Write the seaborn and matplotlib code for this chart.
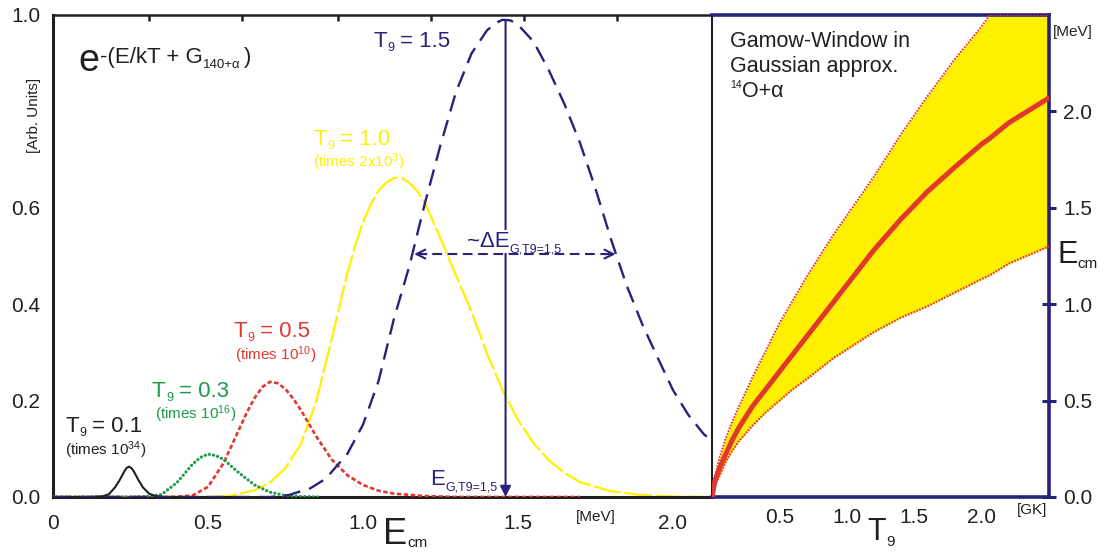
import matplotlib
matplotlib.use('Agg')
import matplotlib.pyplot as plt
import seaborn as sns

# ---------- Data ----------
# Left panel: Gamow peaks [arb. units] vs E_cm [MeV]
t01_E = [0, 0.12, 0.16, 0.18, 0.20, 0.215, 0.23, 0.237, 0.245, 0.253, 0.26, 0.275, 0.29, 0.31, 0.33,
         0.36, 0.50]
t01_v = [0, 0, 0.0015, 0.0055, 0.020, 0.035, 0.053, 0.060, 0.063, 0.060, 0.054, 0.036, 0.020, 0.007,
         0.002, 0, 0]

t03_E = [0, 0.25, 0.30, 0.35, 0.40, 0.45, 0.475, 0.50, 0.525, 0.55, 0.60, 0.65, 0.70, 0.75, 0.80, 0.86]
t03_v = [0, 0, 0.001, 0.005, 0.030, 0.068, 0.082, 0.089, 0.086, 0.078, 0.050, 0.025, 0.010, 0.003,
         0.001, 0]

t05_E = [0, 0.38, 0.45, 0.50, 0.55, 0.60, 0.625, 0.65, 0.675, 0.70, 0.725, 0.75, 0.775, 0.80, 0.85,
         0.90, 0.95, 1.00, 1.05, 1.10, 1.20, 1.30, 1.70]
t05_v = [0, 0, 0.003, 0.021, 0.070, 0.140, 0.175, 0.205, 0.228, 0.239, 0.236, 0.224, 0.204, 0.180,
         0.125, 0.077, 0.045, 0.025, 0.013, 0.007, 0.002, 0, 0]

t10_E = [0, 0.50, 0.57, 0.65, 0.70, 0.75, 0.80, 0.85, 0.90, 0.95, 0.975, 1.00, 1.025, 1.05, 1.075,
         1.10, 1.125, 1.15, 1.175, 1.20, 1.25, 1.30, 1.35, 1.40, 1.45, 1.50, 1.55, 1.60, 1.65,
         1.70, 1.80, 1.90, 2.00, 2.13]
t10_v = [0, 0, 0.002, 0.014, 0.030, 0.060, 0.110, 0.200, 0.330, 0.465, 0.522, 0.570, 0.607, 0.635,
         0.652, 0.662, 0.662, 0.652, 0.635, 0.610, 0.537, 0.460, 0.385, 0.298, 0.222, 0.160,
         0.112, 0.076, 0.050, 0.031, 0.012, 0.004, 0.001, 0]

t15_E = [0, 0.70, 0.76, 0.83, 0.88, 0.95, 1.00, 1.05, 1.10, 1.15, 1.20, 1.25, 1.30, 1.35, 1.40,
         1.425, 1.45, 1.475, 1.50, 1.55, 1.60, 1.65, 1.70, 1.75, 1.80, 1.85, 1.90, 1.95, 2.00,
         2.05, 2.10, 2.13]
t15_v = [0, 0, 0.004, 0.018, 0.038, 0.090, 0.150, 0.240, 0.370, 0.480, 0.610, 0.730, 0.840, 0.920,
         0.968, 0.982, 0.990, 0.989, 0.980, 0.945, 0.885, 0.815, 0.735, 0.640, 0.535, 0.440,
         0.360, 0.290, 0.222, 0.170, 0.130, 0.115]

# T9 = 1.5 annotations: peak energy and width at half maximum
peak_E15 = 1.46
half_lo, half_hi, half_v = 1.165, 1.815, 0.504

# Right panel: Gamow window (Gaussian approx.) vs T9 [GK]
t9 = [0, 0.02, 0.05, 0.1, 0.15, 0.2, 0.3, 0.4, 0.5, 0.6, 0.7, 0.8, 0.9, 1.0, 1.2, 1.4, 1.6, 1.8,
      2.0, 2.06, 2.2, 2.5]
win_center = [0, 0.08, 0.14, 0.22, 0.295, 0.36, 0.47, 0.56, 0.65, 0.74, 0.83, 0.92, 1.01, 1.10,
              1.28, 1.44, 1.585, 1.71, 1.83, 1.86, 1.94, 2.07]
win_low = [0, 0.06, 0.10, 0.18, 0.24, 0.29, 0.37, 0.44, 0.50, 0.56, 0.61, 0.665, 0.72, 0.765,
           0.855, 0.93, 0.99, 1.06, 1.13, 1.15, 1.21, 1.30]
win_high = [0, 0.10, 0.19, 0.30, 0.39, 0.47, 0.62, 0.76, 0.90, 1.02, 1.14, 1.25, 1.36, 1.46,
            1.66, 1.88, 2.08, 2.27, 2.44, 2.50, 2.50, 2.50]

top_ticks = [0.31, 0.61, 0.92, 1.22, 1.52, 1.82]

# ---------- Style ----------
sns.set_style('white')
plt.rcParams['font.family'] = ['Liberation Sans', 'DejaVu Sans']
plt.rcParams['mathtext.fontset'] = 'custom'
plt.rcParams['mathtext.rm'] = 'Liberation Sans'
plt.rcParams['mathtext.it'] = 'Liberation Sans'
plt.rcParams['mathtext.default'] = 'regular'
plt.rcParams['lines.scale_dashes'] = False

NAVY = '#27237a'
YELLOW = '#fff000'
RED = '#e2372e'
GREEN = '#1d9a4a'
BLACK = '#231f20'

W, H = 1114, 552
fig = plt.figure(figsize=(W / 100, H / 100), dpi=100)
ax1 = fig.add_axes([53 / W, 55 / H, 659 / W, 482 / H])
ax2 = fig.add_axes([712 / W, 55 / H, 337 / W, 482 / H])
ax2.patch.set_alpha(0)

# ---------- Left panel ----------
curves = [
    (t10_E, t10_v, YELLOW, (0, (20, 2.5)), 1.6, 'butt', 2),
    (t05_E, t05_v, RED, (0, (3.2, 1.8)), 1.9, 'butt', 3),
    (t03_E, t03_v, GREEN, (0, (0.1, 3.0)), 2.3, 'round', 4),
    (t01_E, t01_v, BLACK, '-', 1.5, 'butt', 5),
    (t15_E, t15_v, NAVY, (0, (12, 6.5)), 1.7, 'butt', 6),
]
for E, v, col, ls, lw, cap, z in curves:
    sns.lineplot(x=E, y=v, ax=ax1, color=col, linestyle=ls, linewidth=lw,
                 errorbar=None, dash_capstyle=cap, zorder=z)

ax1.set_xlim(0, 2.126)
ax1.set_ylim(0, 1.0)
ax1.set_xticks([0, 0.25, 0.5, 0.75, 1.0, 1.25, 1.5, 1.75, 2.0])
ax1.set_xticklabels(['0', '', '0.5', '', '1.0', '', '1.5', '', '2.0'])
ax1.set_yticks([0, 0.2, 0.4, 0.6, 0.8, 1.0])
ax1.set_yticklabels(['0.0', '0.2', '0.4', '0.6', '', '1.0'])
ax1.tick_params(axis='both', direction='out', length=5, width=1.6, color=BLACK,
                labelsize=15, labelcolor=BLACK)
ax1.tick_params(axis='x', pad=7)
ax1.tick_params(axis='y', pad=4)
ax1.set_xlabel('')
ax1.set_ylabel('')
for side, lw in [('left', 2.2), ('bottom', 2.2), ('top', 1.8), ('right', 1.5)]:
    ax1.spines[side].set_color(BLACK)
    ax1.spines[side].set_linewidth(lw)

sec = ax1.secondary_xaxis('top')
sec.set_xticks(top_ticks)
sec.set_xticklabels([])
sec.tick_params(direction='in', length=4, width=1.8, color=BLACK)
sec.spines['top'].set_visible(False)

# arrows for T9 = 1.5
ax1.annotate('', xy=(peak_E15, 0), xytext=(peak_E15, 0.99),
             arrowprops=dict(arrowstyle='-|>', color=NAVY, lw=1.5, mutation_scale=16,
                             shrinkA=0, shrinkB=0), zorder=7)
ax1.plot([half_lo + 0.01, half_hi - 0.01], [half_v, half_v], color=NAVY, lw=1.5,
         linestyle=(0, (7, 4)), zorder=7)
for tip, tail in [(half_lo, half_lo + 0.04), (half_hi, half_hi - 0.04)]:
    ax1.annotate('', xy=(tip, half_v), xytext=(tail, half_v),
                 arrowprops=dict(arrowstyle='->', color=NAVY, lw=1.5, mutation_scale=16,
                                 shrinkA=0, shrinkB=0), zorder=7)

# ---------- Right panel ----------
ax2.fill_between(t9, win_low, win_high, color=YELLOW, lw=0, zorder=1)
sns.lineplot(x=t9, y=win_low, ax=ax2, color=RED, linestyle=(0, (1.2, 1.0)), linewidth=1.6,
             errorbar=None, zorder=3)
sns.lineplot(x=t9, y=win_high, ax=ax2, color=RED, linestyle=(0, (1.2, 1.0)), linewidth=1.4,
             errorbar=None, zorder=3)
sns.lineplot(x=t9, y=win_center, ax=ax2, color=RED, linewidth=3.6, errorbar=None, zorder=4)

ax2.set_xlim(0, 2.5)
ax2.set_ylim(0, 2.5)
ax2.set_xticks([0, 0.5, 1.0, 1.5, 2.0])
ax2.set_xticklabels(['', '0.5', '1.0', '1.5', '2.0'])
ax2.set_yticks([0, 0.5, 1.0, 1.5, 2.0])
ax2.set_yticklabels(['0.0', '0.5', '1.0', '1.5', '2.0'])
ax2.yaxis.tick_right()
ax2.tick_params(axis='both', direction='inout', length=10, width=2.2, color=NAVY,
                labelsize=15, labelcolor=BLACK)
ax2.tick_params(axis='x', pad=3)
ax2.tick_params(axis='y', pad=5)
ax2.set_xlabel('')
ax2.set_ylabel('')
for side in ['top', 'right', 'bottom']:
    ax2.spines[side].set_color(NAVY)
    ax2.spines[side].set_linewidth(2.6)
ax2.spines['left'].set_visible(False)

# ---------- Text ----------
renderer = fig.canvas.get_renderer()


def rich(px, py, parts, color, **kw):
    # parts: (text, size, dy in px, gap after in px); positions in figure pixels
    x = px
    out = []
    for s, size, dy, gap in parts:
        t = fig.text(x / W, 1 - (py + dy) / H, s, fontsize=size, color=color,
                     ha='left', va='baseline', **kw)
        x += t.get_window_extent(renderer=renderer).width + gap
        out.append(t)
    return out


def tlabel(px, py, value, color):
    rich(px, py, [('T', 16, 0, 1), ('9', 9, 4, 5), ('= ' + value, 16, 0, 0)], color)


rich(78, 71, [('e', 27, 0, 1), ('-(E/kT + G', 16, -8, 0), ('140+α', 9.5, -3, 4),
              (')', 16, -8, 0)], BLACK)

tlabel(373, 47, '1.5', NAVY)
tlabel(313, 145, '1.0', YELLOW)
fig.text(313 / W, 1 - 167 / H, '(times 2x10$^3$)', fontsize=11, color=YELLOW, va='baseline')
tlabel(233, 337, '0.5', RED)
fig.text(235 / W, 1 - 360 / H, '(times 10$^{10}$)', fontsize=11, color=RED, va='baseline')
tlabel(152, 397, '0.3', GREEN)
fig.text(155 / W, 1 - 419 / H, '(times 10$^{16}$)', fontsize=11, color=GREEN, va='baseline')
tlabel(65, 432, '0.1', BLACK)
fig.text(65 / W, 1 - 455 / H, '(times 10$^{34}$)', fontsize=11, color=BLACK, va='baseline')

delta = rich(467, 247, [('~ΔE', 16, 0, 0), ('G,T9=1,5', 9, 5, 0)], NAVY)
delta[0].set_bbox(dict(facecolor='white', edgecolor='none', pad=1))
rich(430, 485, [('E', 16, 0, 0), ('G,T9=1,5', 9, 5, 0)], NAVY)

fig.text(34 / W, 1 - 115 / H, '[Arb. Units]', fontsize=11, color=BLACK, rotation=90,
         ha='center', va='center')
fig.text(596 / W, 1 - 510 / H, '[MeV]', fontsize=11, color=BLACK, ha='center', va='top')
rich(383, 544, [('E', 26, 0, 0), ('cm', 11, 3, 0)], BLACK)

fig.text(730 / W, 1 - 47 / H, 'Gamow-Window in', fontsize=15.5, color=BLACK, va='baseline')
fig.text(730 / W, 1 - 72 / H, 'Gaussian approx.', fontsize=15.5, color=BLACK, va='baseline')
rich(730, 97, [('14', 7.5, -9, 0), ('O+α', 15.5, 0, 0)], BLACK)

fig.text(1053 / W, 1 - 36 / H, '[MeV]', fontsize=11, color=BLACK, va='baseline')
rich(1057, 263, [('E', 22, 0, 0), ('cm', 11, 5, 0)], BLACK)
fig.text(1047 / W, 1 - 514 / H, '[GK]', fontsize=11, color=BLACK, ha='right', va='baseline')
rich(867, 540, [('T', 22, 0, 1), ('9', 11, 6, 0)], BLACK)

fig.savefig('out.png', dpi=100)
